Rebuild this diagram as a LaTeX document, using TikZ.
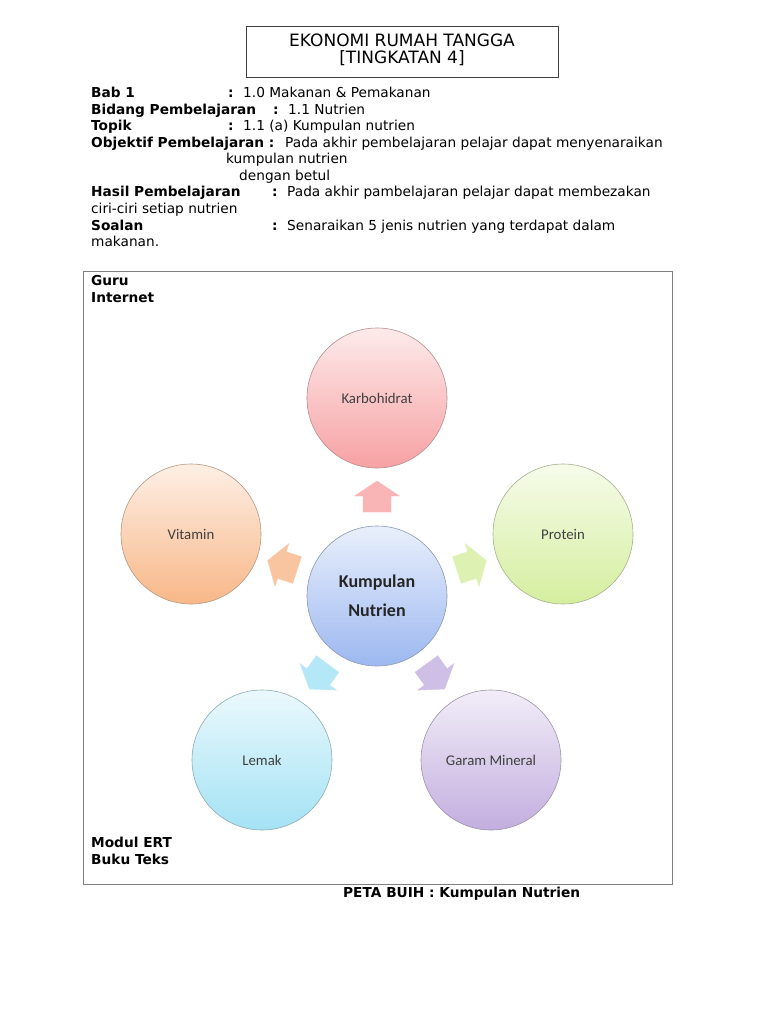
\documentclass[tikz,border=0pt]{standalone}
\usepackage{fontspec}
\setmainfont{DejaVu Sans}
\newfontfamily\calibri{Carlito}
\usetikzlibrary{calc}
\definecolor{KarboPink}{HTML}{F7A1A3}
\definecolor{VitOrange}{HTML}{F8B788}
\definecolor{ProtGreen}{HTML}{D5EE9F}
\definecolor{HubBlue}{HTML}{9CB8F0}
\definecolor{LemakCyan}{HTML}{A3E2F4}
\definecolor{GaramPurple}{HTML}{C3AEDF}
\definecolor{FrameGray}{HTML}{7F7F7F}

\tikzset{
  head/.style={anchor=base west, inner sep=0pt, font=\fontsize{13.7}{16.5}\selectfont\bfseries},
  body/.style={anchor=base west, inner sep=0pt},
  bubble/.style={circle, minimum size=140pt, inner sep=0pt, line width=0.6pt,
    top color=#1!22!white, bottom color=#1, draw=#1!45!gray,
    font=\calibri\fontsize{14.8}{17}\selectfont, text=black!75},
}

\begin{document}
\begin{tikzpicture}[x=1pt, y=-1pt, font=\fontsize{13.7}{16.5}\selectfont]
  \useasboundingbox (0,0) rectangle (768,1024);
  \fill[white] (0,0) rectangle (768,1024);

  % Title box
  \draw[black!75, line width=0.8pt] (246,26) rectangle (558,77);
  \node[anchor=base, inner sep=0pt, font=\fontsize{17}{20}\selectfont] (title1) at (402,47) {EKONOMI RUMAH TANGGA};
  \node[anchor=base, inner sep=0pt, font=\fontsize{17}{20}\selectfont] (title2) at (402,63.5) {[TINGKATAN 4]};

  % Lesson details
  \node[head] (bab) at (91,98) {Bab 1};
  \node[head] (babc) at (228,98) {:};
  \node[body] (babv) at (243,98) {1.0 Makanan \& Pemakanan};
  \node[head] (bidang) at (91,114.5) {Bidang Pembelajaran};
  \node[head] (bidangc) at (273,114.5) {:};
  \node[body] (bidangv) at (288,114.5) {1.1 Nutrien};
  \node[head] (topik) at (91,131) {Topik};
  \node[head] (topikc) at (228,131) {:};
  \node[body] (topikv) at (243,131) {1.1 (a) Kumpulan nutrien};
  \node[head] (objektif) at (91,147.5) {Objektif Pembelajaran :};
  \node[body] (objektifv) at (285,147.5) {Pada akhir pembelajaran pelajar dapat menyenaraikan};
  \node[body] (objektifv2) at (226,164) {kumpulan nutrien};
  \node[body] (objektifv3) at (239,180.5) {dengan betul};
  \node[head] (hasil) at (91,197) {Hasil Pembelajaran};
  \node[head] (hasilc) at (272,197) {:};
  \node[body] (hasilv) at (287,197) {Pada akhir pambelajaran pelajar dapat membezakan};
  \node[body] (hasilv2) at (91,213.5) {ciri-ciri setiap nutrien};
  \node[head] (soalan) at (91,230) {Soalan};
  \node[head] (soalanc) at (272,230) {:};
  \node[body] (soalanv) at (287,230) {Senaraikan 5 jenis nutrien yang terdapat dalam};
  \node[body] (soalanv2) at (91,246.5) {makanan.};

  % Frame of the bubble map
  \draw[FrameGray, line width=0.8pt] (83,271) rectangle (672,884);
  \node[head] (guru) at (91,285) {Guru};
  \node[head] (internet) at (91,302) {Internet};
  \node[head] (modul) at (91,847) {Modul ERT};
  \node[head] (buku) at (91,864) {Buku Teks};

  % Bubbles
  \node[bubble=HubBlue, align=center, text=black!85,
    font=\calibri\bfseries\fontsize{18}{29}\selectfont] (hub) at (377,596) {Kumpulan\\Nutrien};
  \node[bubble=KarboPink] (karbo) at (377,398) {Karbohidrat};
  \node[bubble=ProtGreen] (protein) at (563,534) {Protein};
  \node[bubble=VitOrange] (vitamin) at (191,534) {Vitamin};
  \node[bubble=LemakCyan] (lemak) at (262,760) {Lemak};
  \node[bubble=GaramPurple] (garam) at (491,760) {Garam Mineral};

  % Block arrows pointing out of the hub
  \foreach \ang/\col in {90/KarboPink, 18/ProtGreen, 162/VitOrange, -126/LemakCyan, -54/GaramPurple}{
    \begin{scope}[shift={($(hub)+(\ang:99pt)$)}, rotate=\ang]
      \fill[\col!80!white, draw=\col!70!white, line width=0.4pt]
        (-15,-14) -- (1,-14) -- (1,-22.5) -- (16,0) -- (1,22.5) -- (1,14) -- (-15,14) -- cycle;
    \end{scope}
  }

  \node[head] (caption) at (343,897) {PETA BUIH : Kumpulan Nutrien};
\end{tikzpicture}
\end{document}
